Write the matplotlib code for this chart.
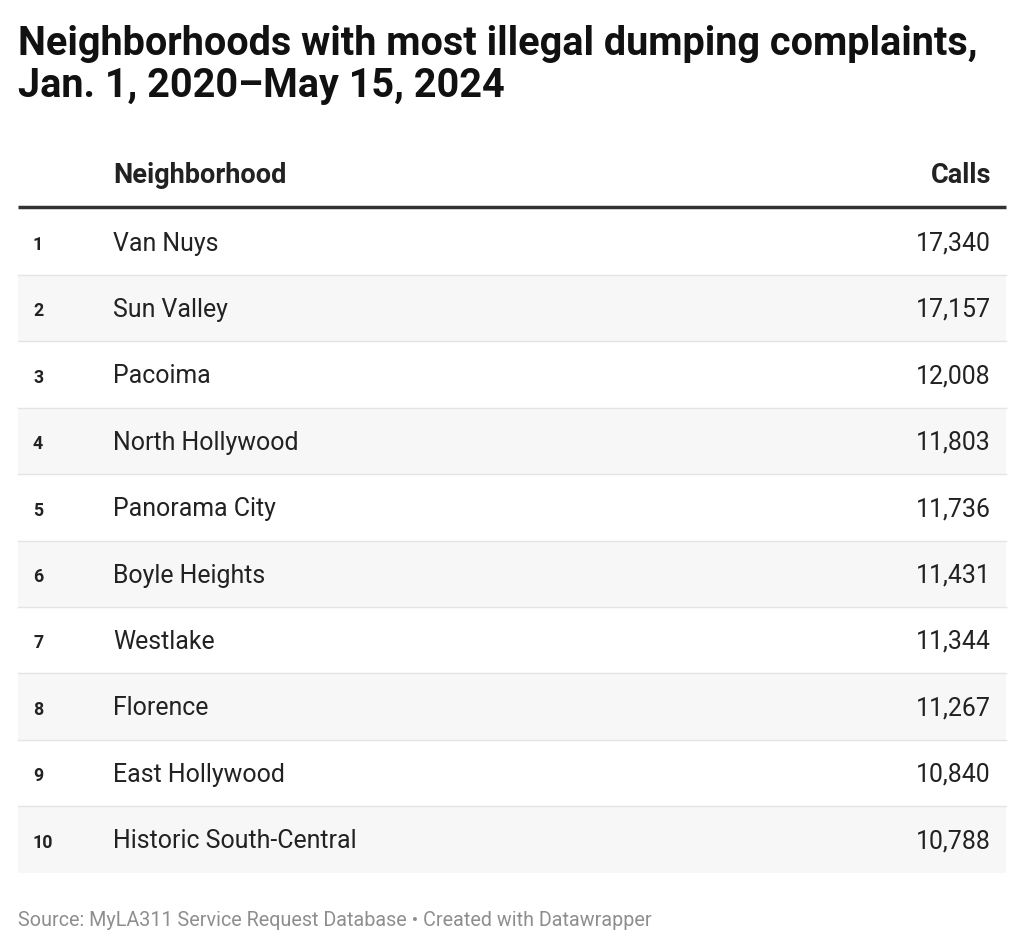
import matplotlib
matplotlib.use("Agg")
import matplotlib.pyplot as plt
from matplotlib.patches import Rectangle

plt.rcParams["font.family"] = ["Roboto", "DejaVu Sans"]

# Dane tabeli
ranks = [1, 2, 3, 4, 5, 6, 7, 8, 9, 10]
neighborhoods = ["Van Nuys", "Sun Valley", "Pacoima", "North Hollywood",
                 "Panorama City", "Boyle Heights", "Westlake", "Florence",
                 "East Hollywood", "Historic South-Central"]
calls = [17340, 17157, 12008, 11803, 11736, 11431, 11344, 11267, 10840, 10788]

title_lines = ["Neighborhoods with most illegal dumping complaints,",
               "Jan. 1, 2020\u2013May 15, 2024"]
source = "Source: MyLA311 Service Request Database \u2022 Created with Datawrapper"

W, H = 1024, 949
fig = plt.figure(figsize=(W / 100, H / 100), dpi=100)
ax = fig.add_axes([0, 0, 1, 1])
ax.set_xlim(0, W)
ax.set_ylim(H, 0)
ax.axis("off")

# Tytuł
for k, line in enumerate(title_lines):
    ax.text(18, 54.5 + k * 42.5, line, fontsize=28.5, fontweight="bold",
            color="#111111", va="baseline", ha="left")

# Nagłówek
ax.text(113, 183, "Neighborhood", fontsize=19.5, fontweight="bold", color="#222222",
        va="baseline", ha="left")
ax.text(991, 183, "Calls", fontsize=19.5, fontweight="bold", color="#222222",
        va="baseline", ha="right")
ax.plot([18, 1006], [207, 207], color="#333333", lw=2.5, solid_capstyle="butt")

# Wiersze
top = 208.5
row_h = 66.4
for i, (r, name, val) in enumerate(zip(ranks, neighborhoods, calls)):
    y0 = top + i * row_h
    if i % 2 == 1:
        ax.add_patch(Rectangle((18, y0), 988, row_h, facecolor="#f7f7f7", edgecolor="none"))
    if i < len(ranks) - 1:
        ax.plot([18, 1006], [y0 + row_h, y0 + row_h], color="#e4e4e4", lw=1.0)
    yb = y0 + row_h / 2 + 8.8
    ax.text(33, yb - 0.5, str(r), fontsize=12.8, fontweight="bold", color="#222222",
            va="baseline", ha="left")
    ax.text(113, yb, name, fontsize=17.9, color="#222222", va="baseline", ha="left")
    ax.text(991, yb, f"{val:,}", fontsize=17.9, color="#222222", va="baseline", ha="right")

# Źródło
ax.text(18, 926.5, source, fontsize=14.2, color="#8e8e8e", va="baseline", ha="left")

fig.savefig("out.png", dpi=100, facecolor="white")
